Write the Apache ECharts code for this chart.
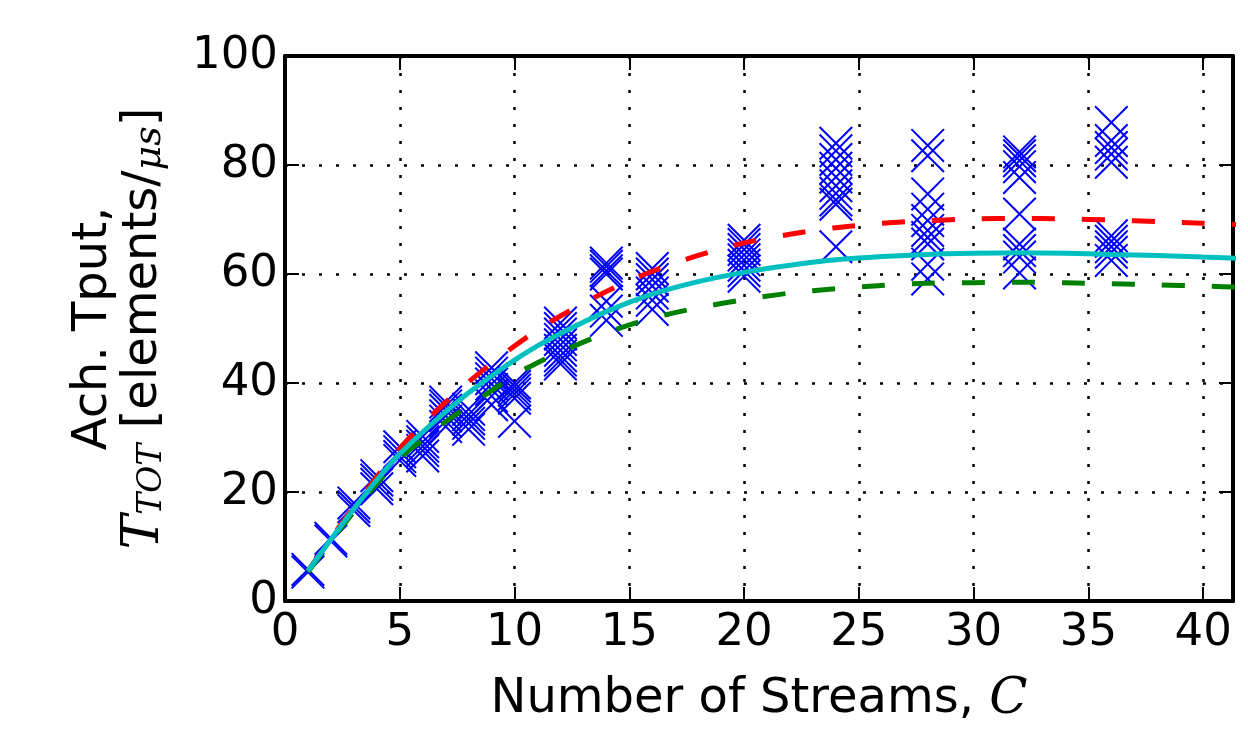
<!DOCTYPE html>
<html>
<head>
<meta charset="utf-8">
<script src="https://cdn.jsdelivr.net/npm/echarts@6/dist/echarts.min.js"></script>
<style>
  html, body { margin: 0; padding: 0; background: #fff; }
  #chart { width: 1248px; height: 730px; }
</style>
</head>
<body>
<div id="chart"></div>
<script>
// measured throughput, one list per stream count
var measStreams = [1, 2, 3, 4, 5, 6, 7, 8, 9, 10, 12, 14, 16, 20, 24, 28, 32, 36];
var measTput = [
    [5.8, 5.3],
    [11.5, 11],
    [18, 17.3, 16.6],
    [23, 22.2, 21.4, 20.6],
    [28.3, 27.4, 26.5, 25.8],
    [30.2, 29.2, 28.4, 27.6, 26.6],
    [36.5, 35.8, 35, 34, 33, 32],
    [35.2, 34.2, 33.4, 32.6, 31.5],
    [42.8, 41.8, 40.8, 39.8, 38.8, 37.6, 36],
    [40, 39.4, 38.7, 38, 37.2, 33],
    [51, 50, 49, 48, 47, 46, 45, 44.2, 43.5],
    [62, 61.4, 60.6, 60, 55, 53.2, 51.5],
    [61, 60, 59, 57.8, 56.5, 55.2, 53.5],
    [66.2, 65.4, 64.5, 63.5, 62.6, 61.6, 60.6, 59.6],
    [84, 82.6, 81, 79.4, 77.8, 76.2, 74.8, 73.6, 72.8, 65],
    [83.6, 81.7, 74.7, 71.9, 69.8, 68, 66.7, 65.5, 61.8, 59.1],
    [82.4, 81.7, 80.8, 79.7, 77.7, 71, 65.5, 64.3, 63.1, 60.2],
    [87.8, 84.5, 83.2, 82, 80.5, 67, 66, 65, 64, 62.5]
];

// model curves
var modelC = [1, 2, 3, 4, 5, 6, 7, 8, 9, 10, 11, 12, 14, 16, 18, 20, 22, 24, 26, 28, 30, 32, 34, 36, 38, 40, 42];
var redModel = [5.5, 11.5, 17.3, 22.8, 28, 32.5, 36.5, 40.2, 43.6, 46.8, 49.7, 52.3, 56.8, 60.5, 63.4, 65.7, 67.3, 68.5, 69.3, 69.8, 70.1, 70.2, 70.1, 69.9, 69.6, 69.3, 69.0];
var greenModel = [5.3, 11, 16.4, 21.5, 26.2, 29.6, 32.9, 35.8, 38.6, 41.5, 43.7, 45.7, 49.2, 51.9, 53.8, 55.3, 56.5, 57.3, 57.9, 58.3, 58.4, 58.5, 58.4, 58.2, 58.0, 57.8, 57.5];
var cyanModel = [5.5, 11.3, 16.9, 22.2, 27, 31, 34.7, 38.2, 41.3, 44.2, 46.8, 49.1, 53.1, 56.3, 58.6, 60.3, 61.6, 62.6, 63.2, 63.6, 63.8, 63.9, 63.8, 63.6, 63.4, 63.1, 62.8];

var xTicks = [0, 5, 10, 15, 20, 25, 30, 35, 40];
var yTicks = [0, 20, 40, 60, 80, 100];

var chart = echarts.init(document.getElementById('chart'));

var scatterData = [];
measStreams.forEach(function (c, i) {
    measTput[i].forEach(function (t) { scatterData.push([c, t]); });
});

function pairs(xs, ys) {
    return xs.map(function (x, i) { return [x, ys[i]]; });
}

var crossPath = 'path://M0,4.2L4.2,0L50,45.8L95.8,0L100,4.2L54.2,50L100,95.8L95.8,100L50,54.2L4.2,100L0,95.8L45.8,50Z';
var font = 'DejaVu Sans';
var mathFont = 'DejaVu Serif';

var baseAxis = {
    type: 'value',
    axisLine: { onZero: false, lineStyle: { color: '#000', width: 4 } },
    axisTick: { inside: true, length: 14, lineStyle: { color: '#000', width: 2 } }
};

var option = {
    animation: false,
    backgroundColor: '#fff',
    grid: { left: 285, right: 15, top: 56, bottom: 129 },
    xAxis: [
        Object.assign({}, baseAxis, {
            position: 'bottom',
            min: 0, max: 41.3, interval: 5,
            axisLabel: { fontSize: 45, fontFamily: font, color: '#000', margin: 10, showMaxLabel: false },
            splitLine: { show: true, lineStyle: { color: '#000', width: 2.5, type: [3, 14] } },
            name: '{a|Number of Streams, }{c|C}',
            nameLocation: 'middle',
            nameGap: 74,
            nameTextStyle: {
                rich: {
                    a: { fontSize: 48, fontFamily: font, color: '#000' },
                    c: { fontSize: 50, fontFamily: mathFont, fontStyle: 'italic', color: '#000' }
                }
            }
        }),
        Object.assign({}, baseAxis, {
            position: 'top',
            min: 0, max: 41.3, interval: 5,
            axisLabel: { show: false },
            splitLine: { show: false }
        })
    ],
    yAxis: [
        Object.assign({}, baseAxis, {
            position: 'left',
            min: 0, max: 100, interval: 20,
            axisLabel: { fontSize: 45, fontFamily: font, color: '#000', margin: 7 },
            splitLine: { show: true, lineStyle: { color: '#000', width: 2.5, type: [3, 14] } },
            name: '{a|Ach. Tput,}\n{t|T}{s|TOT}{a| [elements/}{m|μs}{a|]}',
            nameLocation: 'middle',
            nameRotate: 90,
            nameGap: 116,
            nameTextStyle: {
                rich: {
                    a: { fontSize: 48, fontFamily: font, color: '#000', lineHeight: 50 },
                    t: { fontSize: 52, fontFamily: mathFont, fontStyle: 'italic', color: '#000', lineHeight: 50 },
                    s: { fontSize: 33, fontFamily: mathFont, fontStyle: 'italic', color: '#000', lineHeight: 32, verticalAlign: 'bottom' },
                    m: { fontSize: 38, fontFamily: mathFont, fontStyle: 'italic', color: '#000', lineHeight: 42, verticalAlign: 'bottom' }
                }
            }
        }),
        Object.assign({}, baseAxis, {
            position: 'right',
            min: 0, max: 100, interval: 20,
            axisLabel: { show: false },
            splitLine: { show: false }
        })
    ],
    series: [
        {
            type: 'scatter',
            data: scatterData,
            symbol: crossPath,
            symbolSize: 34,
            itemStyle: { color: '#0000ff', opacity: 1 },
            z: 2
        },
        {
            type: 'line',
            data: pairs(modelC, redModel),
            showSymbol: false,
            symbol: 'none',
            smooth: 0.3,
            lineStyle: { color: '#ff0000', width: 5, type: [23, 27] },
            z: 3
        },
        {
            type: 'line',
            data: pairs(modelC, greenModel),
            showSymbol: false,
            symbol: 'none',
            smooth: 0.3,
            lineStyle: { color: '#008000', width: 5, type: [23, 27] },
            z: 4
        },
        {
            type: 'line',
            data: pairs(modelC, cyanModel),
            showSymbol: false,
            symbol: 'none',
            smooth: 0.3,
            lineStyle: { color: '#00bfbf', width: 5 },
            z: 5
        }
    ]
};

chart.setOption(option);
window.addEventListener('resize', function () {
    chart.resize();
});
</script>
</body>
</html>
